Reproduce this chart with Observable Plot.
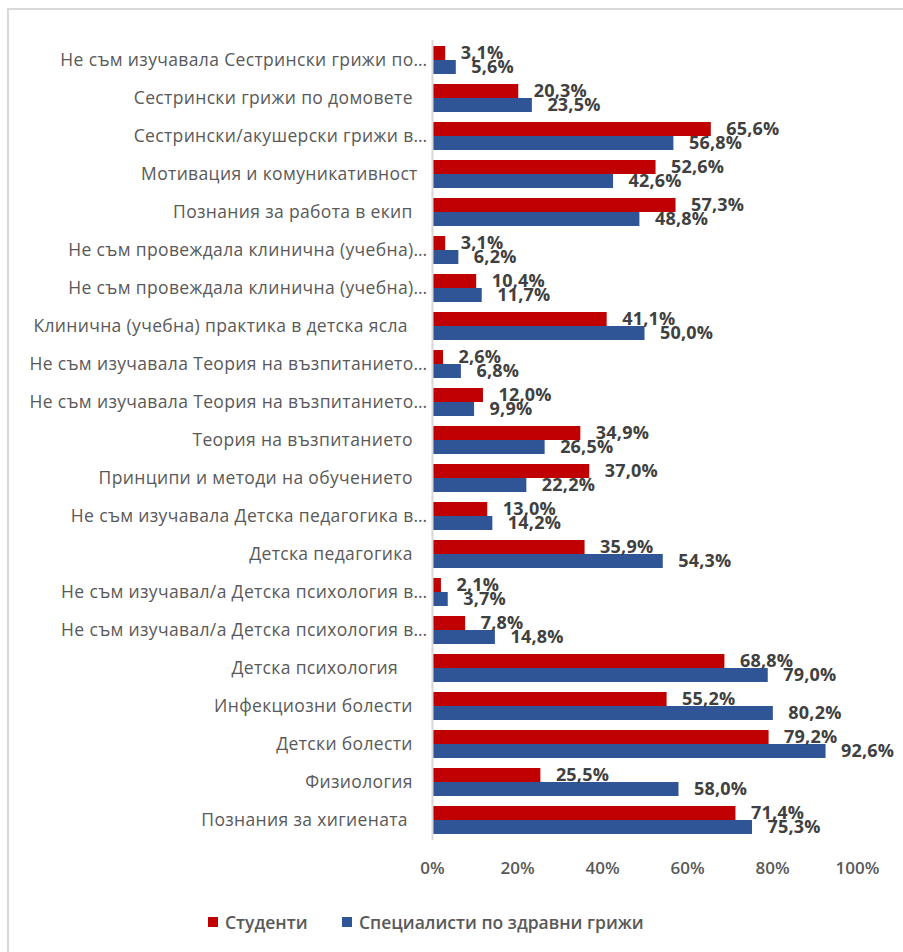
<!DOCTYPE html>
<html>
<head>
<meta charset="utf-8">
<script src="https://cdn.jsdelivr.net/npm/d3@7"></script>
<script src="https://cdn.jsdelivr.net/npm/@observablehq/plot@0.6"></script>
<style>
  html, body { margin: 0; padding: 0; background: #fff; }
  #frame { position: absolute; left: 7px; top: 8px; width: 896px; height: 944px;
           border-left: 2px solid #d9d9d9; border-top: 2px solid #d9d9d9; box-sizing: border-box; }
  #chart { position: absolute; left: 0; top: 0; }
  #legend { position: absolute; left: 0; top: 910px; width: 903px; height: 24px;
            font-family: "Open Sans", sans-serif; font-size: 17.5px; font-weight: 600; color: #595959; }
  .item { position: absolute; top: 0; display: flex; align-items: center; height: 24px; }
  .sw { width: 10px; height: 10px; margin-right: 7px; }
  .cat-axis text { letter-spacing: 0.35px; }
  .val text { letter-spacing: 0.2px; }
</style>
</head>
<body>
<div id="frame"></div>
<div id="chart"></div>
<div id="legend"></div>
<script>
const NB = "\u00a0";
const categories = [
  "Не съм изучавала Сестрински грижи по…",
  "Сестрински грижи по домовете" + NB.repeat(3),
  "Сестрински/акушерски грижи в…",
  "Мотивация и комуникативност" + NB.repeat(2),
  "Познания за работа в екип" + NB.repeat(3),
  "Не съм провеждала клинична (учебна)…",
  "Не съм провеждала клинична (учебна)…",
  "Клинична (учебна) практика в детска ясла" + NB.repeat(4),
  "Не съм изучавала Теория на възпитанието…",
  "Не съм изучавала Теория на възпитанието…",
  "Теория на възпитанието" + NB.repeat(3),
  "Принципи и методи на обучението" + NB.repeat(3),
  "Не съм изучавала Детска педагогика в…",
  "Детска педагогика" + NB.repeat(3),
  "Не съм изучавал/а Детска психология в…",
  "Не съм изучавал/а Детска психология в…",
  "Детска психология" + NB.repeat(6),
  "Инфекциозни болести" + NB.repeat(3),
  "Детски болести" + NB.repeat(3),
  "Физиология" + NB.repeat(3),
  "Познания за хигиената" + NB.repeat(4)
];
const series = ["Студенти", "Специалисти по здравни грижи"];
const students = [3.1, 20.3, 65.6, 52.6, 57.3, 3.1, 10.4, 41.1, 2.6, 12.0, 34.9, 37.0, 13.0, 35.9, 2.1, 7.8, 68.8, 55.2, 79.2, 25.5, 71.4];
const specialists = [5.6, 23.5, 56.8, 42.6, 48.8, 6.2, 11.7, 50.0, 6.8, 9.9, 26.5, 22.2, 14.2, 54.3, 3.7, 14.8, 79.0, 80.2, 92.6, 58.0, 75.3];
const xTicks = [0, 20, 40, 60, 80, 100];
const colors = ["#C00000", "#2F5597"];

const data = [];
categories.forEach((c, i) => {
  data.push({cat: i, series: series[0], value: students[i]});
  data.push({cat: i, series: series[1], value: specialists[i]});
});
const fmt = v => v.toFixed(1).replace(".", ",") + "%";

const plot = Plot.plot({
  width: 903,
  height: 890,
  marginLeft: 432,
  marginRight: 46,
  marginTop: 38,
  marginBottom: 49,
  style: {fontFamily: "'Open Sans', sans-serif", background: "transparent", overflow: "visible"},
  x: {domain: [0, 100], ticks: xTicks, tickFormat: d => d + "%", tickSize: 0, label: null},
  y: {domain: series, axis: null, padding: 0},
  fy: {domain: d3.range(categories.length), paddingInner: 0.267, paddingOuter: 0.143, axis: null, label: null},
  color: {domain: series, range: colors},
  marks: [
    Plot.barX(data, {fy: "cat", y: "series", x: "value", fill: "series"}),
    Plot.ruleX([0], {stroke: "#d9d9d9", strokeWidth: 2, insetTop: -6, insetBottom: -6}),
    Plot.text(data, {fy: "cat", y: "series", x: "value", text: d => fmt(d.value), dx: 15,
      textAnchor: "start", fill: "#404040", fontWeight: "bold", fontSize: 18, className: "val"}),
    Plot.axisFy({anchor: "left", tickSize: 0, tickPadding: 5, tickFormat: i => categories[i],
      fontSize: 17.5, fill: "#595959", label: null, className: "cat-axis"}),
    Plot.axisX({ticks: xTicks, tickFormat: d => d + "%", tickSize: 0, tickPadding: 27,
      fontSize: 17, fontWeight: 600, fill: "#595959", label: null})
  ]
});
document.getElementById("chart").appendChild(plot);

const legend = document.getElementById("legend");
const lefts = [208, 342];
series.forEach((s, i) => {
  const it = document.createElement("div");
  it.className = "item";
  it.style.left = lefts[i] + "px";
  const sw = document.createElement("div");
  sw.className = "sw";
  sw.style.background = colors[i];
  const t = document.createElement("span");
  t.textContent = s;
  it.appendChild(sw); it.appendChild(t);
  legend.appendChild(it);
});
</script>
</body>
</html>
